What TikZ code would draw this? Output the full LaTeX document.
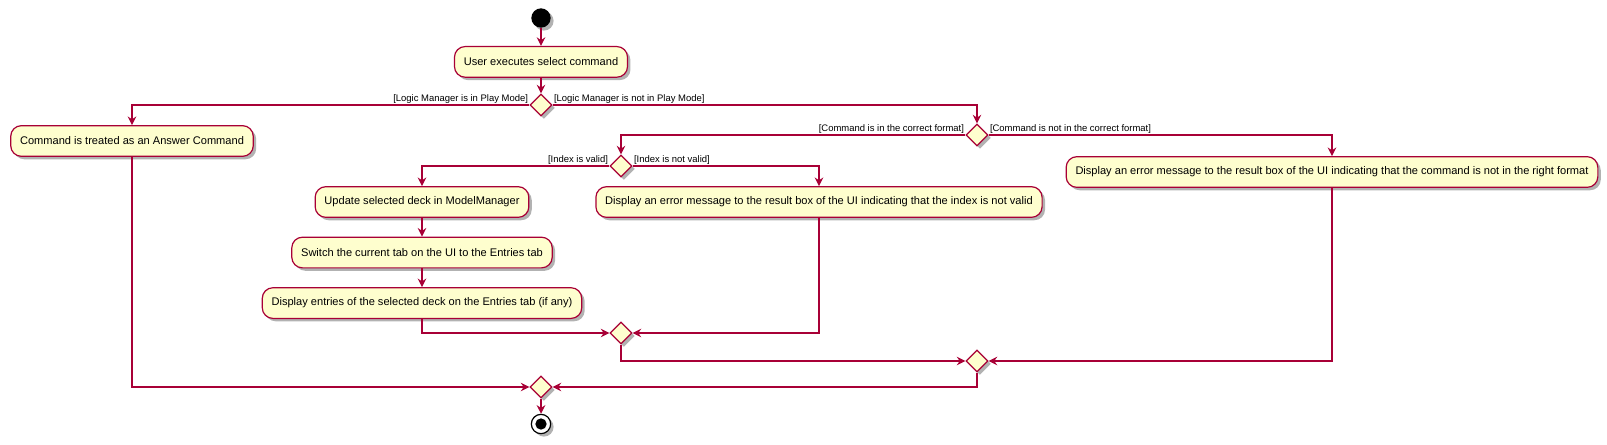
\documentclass[tikz,border=0pt]{standalone}
\usepackage{fontspec}
\setmainfont{Liberation Sans}
\usepackage{tikz}
\usetikzlibrary{arrows.meta}
\usetikzlibrary{shapes.geometric}
\usetikzlibrary{shadows}
\usetikzlibrary{positioning}

\definecolor{umlred}{HTML}{A80036}
\definecolor{umlfill}{HTML}{FEFECE}

\begin{document}
\begin{tikzpicture}[x=0.75pt, y=-0.75pt,
        dropped/.style={drop shadow={shadow xshift=2.2pt, shadow yshift=-2.2pt, opacity=0.3, fill=black}},
        act/.style={draw=umlred, fill=umlfill, line width=0.9pt, rounded corners=8pt,
            minimum height=23pt, inner xsep=7pt, font=\fontsize{8.3}{10}\selectfont, dropped},
        branch/.style={diamond, draw=umlred, fill=umlfill, line width=0.9pt,
            minimum width=16.5pt, minimum height=16.5pt, inner sep=0pt, dropped},
        guard/.style={font=\fontsize{7.1}{8}\selectfont, inner sep=0.6pt},
        flow/.style={draw=umlred, line width=0.9pt, -{Stealth[length=6.5pt, width=6.5pt, inset=2.2pt]}}]
    \useasboundingbox (0,0) rectangle (1607,444);

        \node [circle, fill=black, minimum size=14.5pt, inner sep=0pt, dropped] (start) at (541,18) {};
        \node [act] (select) [below=13.5pt of start] {User executes select command};
        \node [branch] (playmode) at (541,105) {};
        \node [act] (answer) at (132,141) {Command is treated as an Answer Command};
        \node [branch] (format) at (977,135) {};
        \node [branch] (index) at (621,166) {};
        \node [act] (update) at (422,202) {Update selected deck in ModelManager};
        \node [act] (switchtab) [below=14pt of update] {Switch the current tab on the UI to the Entries tab};
        \node [act] (entries) [below=14pt of switchtab] {Display entries of the selected deck on the Entries tab (if any)};
        \node [act] (badindex) at (819,202) {Display an error message to the result box of the UI indicating that the index is not valid};
        \node [act] (badformat) at (1332,172) {Display an error message to the result box of the UI indicating that the command is not in the right format};
        \node [branch] (mergeindex) at (621,333) {};
        \node [branch] (mergeformat) at (977,361) {};
        \node [branch] (mergemode) at (541,387) {};
        \node [circle, draw=black, fill=white, line width=0.9pt, minimum size=14.5pt, inner sep=0pt, dropped] (stop) at (541,424) {};
        \node [circle, fill=black, minimum size=8.5pt, inner sep=0pt] (stopdot) at (stop) {};

        \draw[flow] (start) -- (select);
        \draw[flow] (select) -- (playmode);
        \draw[flow] (playmode.west) -| node[guard, pos=0, anchor=south east] {[Logic Manager is in Play Mode]} (answer.north);
        \draw[flow] (playmode.east) -| node[guard, pos=0, anchor=south west] {[Logic Manager is not in Play Mode]} (format.north);
        \draw[flow] (format.west) -| node[guard, pos=0, anchor=south east] {[Command is in the correct format]} (index.north);
        \draw[flow] (format.east) -| node[guard, pos=0, anchor=south west] {[Command is not in the correct format]} (badformat.north);
        \draw[flow] (index.west) -| node[guard, pos=0, anchor=south east] {[Index is valid]} (update.north);
        \draw[flow] (index.east) -| node[guard, pos=0, anchor=south west] {[Index is not valid]} (badindex.north);
        \draw[flow] (update) -- (switchtab);
        \draw[flow] (switchtab) -- (entries);
        \draw[flow] (entries.south) |- (mergeindex.west);
        \draw[flow] (badindex.south) |- (mergeindex.east);
        \draw[flow] (mergeindex.south) |- (mergeformat.west);
        \draw[flow] (badformat.south) |- (mergeformat.east);
        \draw[flow] (answer.south) |- (mergemode.west);
        \draw[flow] (mergeformat.south) |- (mergemode.east);
        \draw[flow] (mergemode) -- (stop);
    \end{tikzpicture}
\end{document}
